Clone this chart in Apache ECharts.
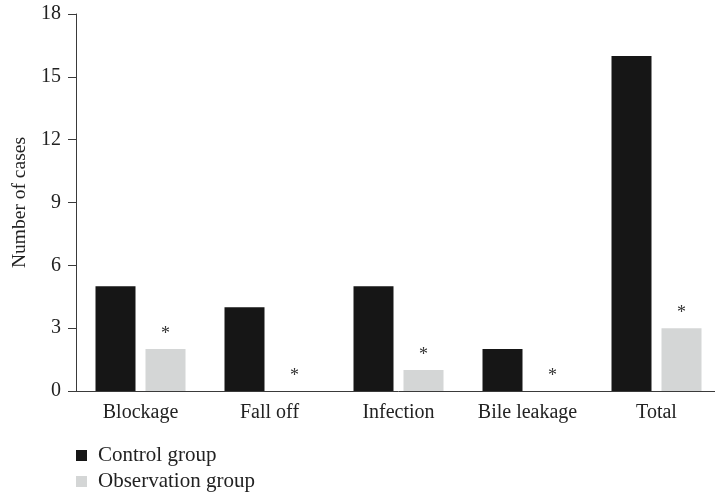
<!DOCTYPE html>
<html>
<head>
<meta charset="utf-8">
<script src="https://cdn.jsdelivr.net/npm/echarts@6/dist/echarts.min.js"></script>
<style>
  html, body { margin: 0; padding: 0; background: #fff; overflow: hidden; }
  #chart { width: 722px; height: 494px; }
</style>
</head>
<body>
<div id="chart"></div>
<script>
// Complications by type, per group
const categories = ['Blockage', 'Fall off', 'Infection', 'Bile leakage', 'Total'];
const controlGroup = [5, 4, 5, 2, 16];
const observationGroup = [2, 0, 1, 0, 3];
const yTicks = [0, 3, 6, 9, 12, 15, 18];
const seriesNames = ['Control group', 'Observation group'];

const serif = 'Liberation Serif, DejaVu Serif, serif';
const axisColor = '#3a3a3a';
const textColor = '#222';

// One legend block per row so the entries stack vertically
const legendRow = (name, top) => ({
  left: 71,
  top: top,
  itemWidth: 11,
  itemHeight: 11,
  icon: 'rect',
  textStyle: { fontFamily: serif, fontSize: 21, color: textColor, padding: [0, 0, 0, 6] },
  data: [name]
});

const chart = echarts.init(document.getElementById('chart'));
chart.setOption({
  animation: false,
  backgroundColor: '#ffffff',
  grid: { left: 76, top: 14, width: 645, height: 377, containLabel: false },
  legend: [legendRow(seriesNames[0], 440), legendRow(seriesNames[1], 466)],
  xAxis: {
    type: 'category',
    data: categories,
    axisLine: { lineStyle: { color: axisColor, width: 1 } },
    axisTick: { alignWithLabel: true, length: 5, lineStyle: { color: axisColor } },
    axisLabel: { fontFamily: serif, fontSize: 20, color: textColor, margin: 12, interval: 0 }
  },
  yAxis: {
    type: 'value',
    min: yTicks[0],
    max: yTicks[yTicks.length - 1],
    interval: 3,
    name: 'Number of cases',
    nameLocation: 'middle',
    nameGap: 43,
    nameTextStyle: { fontFamily: serif, fontSize: 19.5, color: textColor },
    axisLine: { show: true, lineStyle: { color: axisColor, width: 1 } },
    axisTick: { show: true, length: 8, lineStyle: { color: axisColor } },
    axisLabel: { fontFamily: serif, fontSize: 20, color: textColor, margin: 15 },
    splitLine: { show: false }
  },
  series: [
    {
      name: seriesNames[0],
      type: 'bar',
      data: controlGroup,
      barWidth: 40,
      barGap: '25%',
      itemStyle: { color: '#161616' }
    },
    {
      name: seriesNames[1],
      type: 'bar',
      data: observationGroup,
      barWidth: 40,
      barGap: '25%',
      itemStyle: { color: '#d4d6d6' },
      label: {
        show: true,
        position: 'top',
        distance: 6,
        formatter: '*',
        fontFamily: serif,
        fontSize: 18,
        color: '#333'
      }
    }
  ]
});
</script>
</body>
</html>
